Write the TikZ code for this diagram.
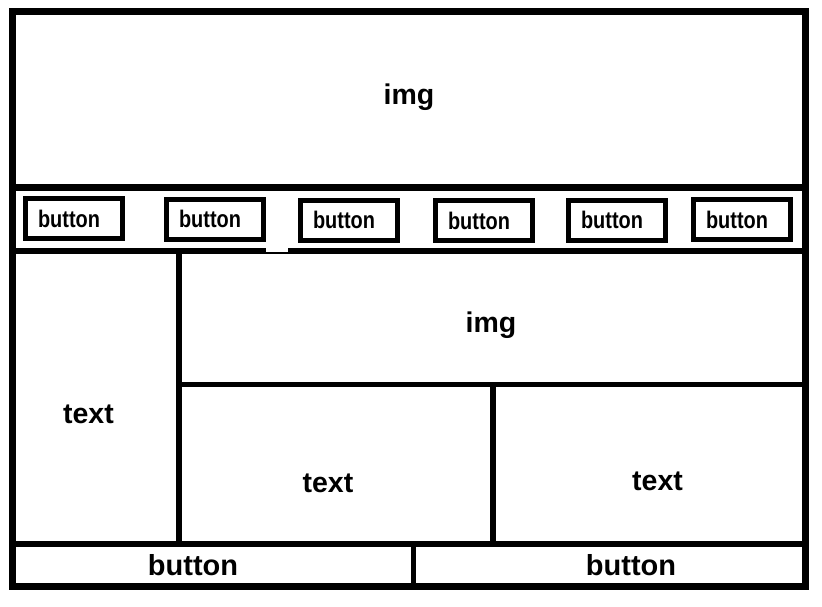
\documentclass[tikz,border=0pt]{standalone}
\usepackage{fontspec}
\setmainfont{Liberation Sans}
\newfontfamily\narrowfont[FakeStretch=0.83]{Liberation Sans}
\usetikzlibrary{positioning}

\begin{document}
\begin{tikzpicture}[x=1pt, y=-1pt,
    frame/.style={draw=black, line width=7pt},
    sep/.style={draw=black, line width=5.5pt},
    label/.style={inner sep=0pt, font=\bfseries\fontsize{28.5}{30}\selectfont},
    bigbtn/.style={inner sep=0pt, font=\bfseries\fontsize{29}{31}\selectfont},
    btn/.style={draw=black, line width=5pt, minimum width=97pt, minimum height=40pt,
    inner sep=0pt, font=\narrowfont\bfseries\fontsize{24}{26}\selectfont,
    execute at end node={\hspace*{10pt}}}]
    \useasboundingbox (0,0) rectangle (822,606);

    % outer frame and separators
    \draw [frame] (12.5,11.5) rectangle (805.5,586);
    \draw [sep, line width=6.5pt] (12.5,187.5) -- (805.5,187.5);
    \draw [sep, line width=6.5pt] (12.5,251) -- (805.5,251);
    \draw [sep] (179,251) -- (179,544);
    \draw [sep] (179,384.5) -- (805.5,384.5);
    \draw [sep] (493,384.5) -- (493,544);
    \draw [sep] (12.5,544) -- (805.5,544);
    \draw [sep] (413.5,544) -- (413.5,586);
    \fill [white] (266,191) rectangle (288,251.5);

    % button row
    \node (btnA) [btn] at (74,218.5) {button};
    \node (btnB) [btn] at (215,219) {button};
    \node (btnC) [btn] at (349,220) {button};
    \node (btnD) [btn] at (484,220.5) {button};
    \node (btnE) [btn] at (617,220) {button};
    \node (btnF) [btn] at (742,219.5) {button};

    % labels
    \node (topimg) [label] at (409,97) {img};
    \node (midimg) [label] at (491,325) {img};
    \node (lefttext) [label] at (88.5,414) {text};
    \node (midtext) [label] at (328,483) {text};
    \node (righttext) [label] at (657.5,481) {text};
    \node (leftbtn) [bigbtn] at (193,565) {button};
    \node (rightbtn) [bigbtn] at (631,565) {button};
\end{tikzpicture}
\end{document}
